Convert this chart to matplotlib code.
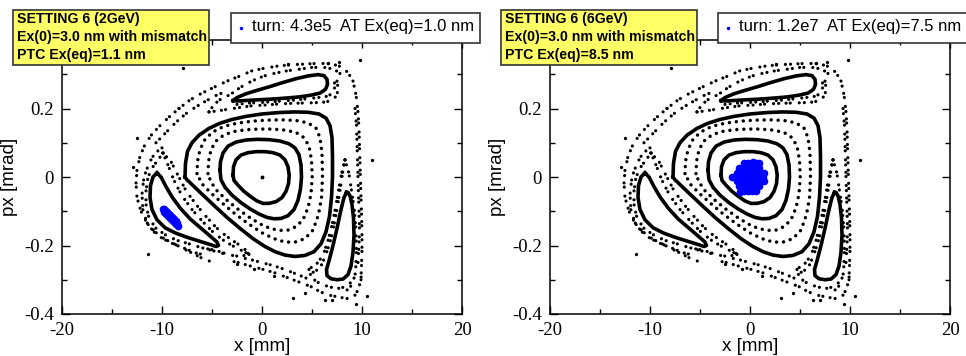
import matplotlib
matplotlib.use("Agg")
import matplotlib.pyplot as plt
from matplotlib.patches import Rectangle
from matplotlib.ticker import MultipleLocator, FuncFormatter

plt.rcParams['axes.unicode_minus'] = False

# ---- data (x in mm, px in mrad) ----
# solid tori
ring1_x = [-2.9, -2.85, -2.6, -2.1, -1.4, -0.6, 0.3, 1.1, 1.8, 2.3, 2.6, 2.72, 2.65, 2.4, 2.0, 1.4, 0.7, 0.1, -0.5, -1.1, -1.8, -2.4, -2.8, -2.9]
ring1_p = [0.005, 0.03, 0.05, 0.064, 0.071, 0.074, 0.074, 0.071, 0.064, 0.05, 0.03, 0.005, -0.02, -0.042, -0.06, -0.072, -0.077, -0.077, -0.07, -0.058, -0.042, -0.024, -0.01, 0.005]
ring2_x = [-4.2, -4.15, -3.9, -3.4, -2.6, -1.6, -0.5, 0.7, 1.8, 2.7, 3.3, 3.7, 3.9, 3.95, 3.85, 3.6, 3.2, 2.6, 1.9, 1.2, 0.5, -0.3, -1.2, -2.1, -3.0, -3.7, -4.1, -4.2]
ring2_p = [0.02, 0.045, 0.07, 0.09, 0.102, 0.108, 0.11, 0.109, 0.105, 0.097, 0.085, 0.065, 0.035, 0.0, -0.035, -0.068, -0.095, -0.113, -0.121, -0.122, -0.118, -0.108, -0.093, -0.075, -0.053, -0.03, -0.008, 0.02]
ring5_x = [-7.7, -7.65, -7.45, -7.0, -6.3, -5.3, -4.2, -3.0, -1.6, 0.0, 1.6, 3.2, 4.6, 5.7, 6.4, 6.8, 7.0, 7.05, 7.05, 6.95, 6.75, 6.4, 5.9, 5.2, 4.3, 3.3, 2.3, 1.3, 0.3, -0.9, -2.2, -3.5, -4.8, -6.0, -7.0, -7.5, -7.7]
ring5_p = [0.0, 0.04, 0.075, 0.1, 0.122, 0.142, 0.157, 0.168, 0.177, 0.184, 0.188, 0.19, 0.189, 0.184, 0.172, 0.15, 0.115, 0.06, 0.0, -0.06, -0.115, -0.16, -0.195, -0.218, -0.229, -0.232, -0.228, -0.218, -0.203, -0.18, -0.15, -0.118, -0.083, -0.05, -0.022, -0.008, 0.0]

# dotted tori
ring3_x = [-5.4, -5.35, -5.1, -4.6, -3.8, -2.8, -1.6, -0.3, 1.0, 2.3, 3.4, 4.2, 4.7, 4.95, 5.02, 4.9, 4.6, 4.1, 3.4, 2.6, 1.7, 0.8, -0.2, -1.3, -2.4, -3.5, -4.5, -5.1, -5.4]
ring3_p = [0.01, 0.045, 0.08, 0.105, 0.123, 0.133, 0.138, 0.14, 0.14, 0.137, 0.13, 0.115, 0.09, 0.05, 0.0, -0.05, -0.09, -0.125, -0.145, -0.155, -0.156, -0.15, -0.137, -0.117, -0.094, -0.068, -0.04, -0.015, 0.01]
ring4_x = [-6.5, -6.45, -6.2, -5.7, -4.9, -3.8, -2.5, -1.0, 0.5, 2.0, 3.4, 4.6, 5.4, 5.8, 6.0, 6.05, 5.95, 5.65, 5.1, 4.3, 3.3, 2.3, 1.2, 0.0, -1.3, -2.6, -3.9, -5.1, -6.0, -6.5]
ring4_p = [0.01, 0.045, 0.08, 0.11, 0.132, 0.148, 0.157, 0.163, 0.166, 0.167, 0.165, 0.158, 0.143, 0.115, 0.07, 0.0, -0.06, -0.11, -0.155, -0.18, -0.19, -0.19, -0.18, -0.163, -0.138, -0.11, -0.078, -0.047, -0.02, 0.01]

# islands
isl_top_x = [-2.9, -2.5, -1.6, -0.5, 0.8, 2.1, 3.4, 4.6, 5.6, 6.2, 6.5, 6.55, 6.35, 5.8, 4.9, 3.8, 2.6, 1.3, 0.0, -1.3, -2.4, -2.9]
isl_top_p = [0.223, 0.232, 0.243, 0.253, 0.264, 0.276, 0.287, 0.295, 0.299, 0.296, 0.285, 0.27, 0.256, 0.245, 0.239, 0.234, 0.231, 0.228, 0.226, 0.224, 0.222, 0.223]
isl_right_x = [8.45, 8.2, 7.9, 7.5, 7.1, 6.7, 6.45, 6.5, 6.9, 7.5, 8.1, 8.6, 8.9, 9.1, 9.2, 9.15, 9.0, 8.8, 8.6, 8.45]
isl_right_p = [-0.045, -0.06, -0.095, -0.15, -0.2, -0.245, -0.27, -0.288, -0.297, -0.3, -0.298, -0.285, -0.26, -0.22, -0.17, -0.12, -0.08, -0.055, -0.045, -0.045]
isl_left_x = [-10.5, -10.9, -11.15, -11.2, -11.0, -10.5, -9.7, -8.7, -7.5, -6.3, -5.2, -4.6, -4.35, -4.5, -5.2, -6.2, -7.2, -8.2, -9.0, -9.6, -10.1, -10.5]
isl_left_p = [0.012, 0.0, -0.025, -0.06, -0.095, -0.125, -0.148, -0.163, -0.176, -0.187, -0.197, -0.203, -0.2, -0.19, -0.172, -0.147, -0.122, -0.09, -0.058, -0.028, 0.0, 0.012]

# chaotic layer, traced as strands of dots
strands = [
    # around left island
    ([-9.9, -9.4, -8.8, -8.0, -7.0, -6.0, -5.0, -4.0, -3.0, -2.0, -1.3],
     [0.07, 0.035, -0.01, -0.055, -0.095, -0.128, -0.158, -0.182, -0.2, -0.215, -0.226]),
    ([-9.9, -9.1, -8.4, -7.6, -6.6, -5.6, -4.6, -3.6, -2.6, -1.8, -1.3],
     [0.07, 0.045, 0.005, -0.04, -0.08, -0.115, -0.147, -0.172, -0.192, -0.208, -0.226]),
    ([-1.3, -2.2, -3.2, -4.2, -5.0, -6.0],
     [-0.226, -0.232, -0.228, -0.218, -0.212, -0.207]),
    ([-9.9, -10.4, -10.9, -11.4, -11.6, -11.6, -11.3, -10.6, -9.6, -8.5, -7.3, -6.2, -5.2, -4.3, -3.5],
     [0.07, 0.05, 0.03, 0.0, -0.04, -0.08, -0.12, -0.15, -0.17, -0.185, -0.195, -0.205, -0.213, -0.22, -0.226]),
    ([-10.0, -10.7, -11.3, -11.8, -12.0, -11.9, -11.4, -10.5, -9.3, -8.0, -6.8, -5.5],
     [0.085, 0.07, 0.04, 0.0, -0.05, -0.1, -0.14, -0.17, -0.19, -0.205, -0.22, -0.23]),
    ([-10.6, -9.6, -8.6, -7.6, -6.6, -5.6, -4.6, -3.6],
     [0.1, 0.13, 0.16, 0.185, 0.205, 0.222, 0.238, 0.25]),
    # around top island
    ([-5.3, -4.4, -3.4, -2.2, -1.0, 0.3, 1.6, 2.9, 4.2, 5.4, 6.4, 7.1, 7.5, 7.6, 7.5],
     [0.19, 0.193, 0.198, 0.203, 0.208, 0.21, 0.213, 0.215, 0.216, 0.217, 0.219, 0.225, 0.24, 0.26, 0.28]),
    ([-2.5, -1.2, 0.2, 1.6, 3.0, 4.4, 5.6, 6.6, 7.2, 7.3, 7.1],
     [0.212, 0.216, 0.218, 0.221, 0.224, 0.228, 0.232, 0.236, 0.248, 0.27, 0.29]),
    ([-5.3, -4.9, -4.4, -3.8, -3.2, -2.5, -1.7, -0.8, 0.2, 1.3, 2.5, 3.8, 5.0, 6.2, 7.2, 7.9, 8.2],
     [0.19, 0.207, 0.222, 0.233, 0.24, 0.255, 0.27, 0.283, 0.295, 0.303, 0.31, 0.315, 0.32, 0.32, 0.315, 0.3, 0.28]),
    ([-8.3, -7.2, -6.0, -4.8, -3.5, -2.2, -1.0, 0.3, 1.6, 3.0, 4.4, 5.8, 7.0, 7.9, 8.6, 9.1],
     [0.2, 0.225, 0.245, 0.262, 0.28, 0.295, 0.31, 0.318, 0.324, 0.328, 0.33, 0.332, 0.33, 0.322, 0.305, 0.28]),
    # around right island
    ([8.3, 7.95, 7.65, 7.35, 7.0, 6.6, 6.15, 5.6, 5.0, 4.7],
     [0.05, 0.01, -0.04, -0.09, -0.14, -0.185, -0.225, -0.25, -0.262, -0.27]),
    ([8.3, 8.1, 7.85, 7.55, 7.2, 6.8, 6.35, 5.9, 5.3, 4.8, 4.7],
     [0.05, 0.02, -0.03, -0.085, -0.14, -0.19, -0.23, -0.26, -0.277, -0.28, -0.27]),
    ([8.3, 8.7, 8.95, 9.25, 9.4, 9.45, 9.35, 9.0, 8.5],
     [0.05, 0.01, -0.04, -0.1, -0.16, -0.22, -0.28, -0.315, -0.33]),
    ([4.7, 4.9, 5.4, 6.1, 6.9, 7.7, 8.4, 9.0],
     [-0.27, -0.29, -0.305, -0.315, -0.322, -0.325, -0.32, -0.305]),
    # outer band
    ([9.9, 9.6, 9.2, 8.5, 7.6, 6.7, 5.8, 4.9, 4.0, 3.1, 2.2, 1.3, 0.4, -0.5, -1.4, -2.3, -3.2],
     [-0.3, -0.33, -0.35, -0.355, -0.35, -0.345, -0.335, -0.32, -0.31, -0.3, -0.29, -0.28, -0.272, -0.265, -0.258, -0.25, -0.245]),
    ([4.4, 3.6, 2.7, 1.8, 0.9, 0.0, -0.9, -1.8],
     [-0.295, -0.285, -0.275, -0.265, -0.257, -0.25, -0.243, -0.237]),
    ([9.1, 9.4, 9.6, 9.7, 9.75, 9.8, 9.85, 9.9, 9.95, 10.0, 10.0, 9.95, 9.9],
     [0.28, 0.24, 0.19, 0.14, 0.09, 0.04, -0.01, -0.06, -0.11, -0.16, -0.21, -0.26, -0.3]),
    ([9.3, 9.45, 9.5, 9.55, 9.6, 9.65, 9.7, 9.75, 9.7, 9.6],
     [0.2, 0.15, 0.1, 0.05, 0.0, -0.05, -0.1, -0.15, -0.2, -0.25]),
    ([-8.3, -9.3, -10.2, -11.0, -11.7, -12.2, -12.5, -12.6, -12.5, -12.1, -11.5, -10.7, -9.8, -8.8, -7.8, -6.8, -5.8, -4.8],
     [0.2, 0.175, 0.15, 0.125, 0.095, 0.06, 0.02, -0.02, -0.06, -0.1, -0.135, -0.16, -0.18, -0.195, -0.21, -0.225, -0.24, -0.25]),
]

# isolated escaping points
lone_x = [-7.93, 9.8, 11.0, -12.5, -12.87, -11.37, 3.13, 10.47, 9.4, 7.0, 6.3, 7.7, 2.6, 6.6, 4.3, -2.5, -0.8, 1.2]
lone_p = [0.317, 0.343, 0.05, 0.113, 0.03, -0.226, -0.352, -0.347, -0.37, -0.36, -0.36, 0.336, 0.331, 0.333, -0.34, -0.255, -0.27, -0.29]

# tracked beam (blue)
beam2_x = [-9.95, -9.75, -9.55, -9.35, -9.15, -8.95, -8.75, -8.55, -9.85, -9.65, -9.45, -9.25, -9.05, -8.85, -8.65,
           -9.8, -9.6, -9.4, -9.2, -9.0, -8.8, -8.6, -8.4]
beam2_p = [-0.093, -0.099, -0.105, -0.111, -0.117, -0.123, -0.129, -0.134, -0.102, -0.108, -0.114, -0.12, -0.126, -0.132, -0.137,
           -0.092, -0.098, -0.104, -0.11, -0.116, -0.122, -0.128, -0.142]
beam6_x = [-0.6, -0.2, 0.2, 0.6,
           -1.1, -0.7, -0.3, 0.1, 0.5, 0.9,
           -1.3, -0.9, -0.5, -0.1, 0.3, 0.7, 1.1, 1.4,
           -1.5, -1.1, -0.7, -0.3, 0.1, 0.5, 0.9, 1.3,
           -1.3, -0.9, -0.5, -0.1, 0.3, 0.7, 1.1, 1.4,
           -1.1, -0.7, -0.3, 0.1, 0.5, 0.9,
           -0.6, -0.2, 0.2, 0.6,
           0.33, -0.97, -1.8, 0.9]
beam6_p = [0.04, 0.04, 0.04, 0.04,
           0.027, 0.027, 0.027, 0.027, 0.027, 0.027,
           0.013, 0.013, 0.013, 0.013, 0.013, 0.013, 0.013, 0.013,
           0.0, 0.0, 0.0, 0.0, 0.0, 0.0, 0.0, 0.0,
           -0.013, -0.013, -0.013, -0.013, -0.013, -0.013, -0.013, -0.013,
           -0.027, -0.027, -0.027, -0.027, -0.027, -0.027,
           -0.04, -0.04, -0.04, -0.04,
           0.045, -0.045, 0.0, 0.042]

panels = [
    dict(beam_x=beam2_x, beam_p=beam2_p, center_dot=True,
         box="SETTING 6 (2GeV)\nEx(0)=3.0 nm with mismatch\nPTC Ex(eq)=1.1 nm",
         leg="turn: 4.3e5  AT Ex(eq)=1.0 nm"),
    dict(beam_x=beam6_x, beam_p=beam6_p, center_dot=False,
         box="SETTING 6 (6GeV)\nEx(0)=3.0 nm with mismatch\nPTC Ex(eq)=8.5 nm",
         leg="turn: 1.2e7  AT Ex(eq)=7.5 nm"),
]

W, H = 966, 356
fig = plt.figure(figsize=(W / 100, H / 100), dpi=100)

def fx(p):
    return p / W

def fy(p):
    return 1 - p / H

def ylab(v, pos):
    # the 0.4 label sits under the info box in the original
    if v > 0.3:
        return ""
    return "%g" % round(v, 2)

serif = 'Liberation Serif'
sans = 'Liberation Sans'
dots = (0, (0.01, 2.0))
sparse = (0, (0.01, 1.6, 0.01, 2.3, 0.01, 1.3, 0.01, 2.8))

for i, pn in enumerate(panels):
    x0 = 62 + i * 488
    ax = fig.add_axes([fx(x0), fy(314), 400 / W, 274 / H])
    ax.set_xlim(-20, 20)
    ax.set_ylim(-0.4, 0.4)

    for xs, ps in [(ring1_x, ring1_p), (ring2_x, ring2_p), (ring5_x, ring5_p),
                   (isl_top_x, isl_top_p), (isl_right_x, isl_right_p), (isl_left_x, isl_left_p)]:
        ax.plot(xs, ps, color='k', lw=2.6, solid_joinstyle='round')
    for xs, ps in [(ring3_x, ring3_p), (ring4_x, ring4_p)]:
        ax.plot(xs, ps, color='k', lw=2.5, linestyle=dots, dash_capstyle='round')
    for xs, ps in strands:
        ax.plot(xs, ps, color='k', lw=2.3, linestyle=sparse, dash_capstyle='round')
    ax.plot(lone_x, lone_p, 'o', color='k', ms=2.4, mew=0)
    if pn['center_dot']:
        ax.plot([0], [0], 'o', color='k', ms=2.8, mew=0)
    ax.plot(pn['beam_x'], pn['beam_p'], 'o', color='#0000ff', ms=5.5, mew=0)

    ax.xaxis.set_major_locator(MultipleLocator(10))
    ax.xaxis.set_minor_locator(MultipleLocator(5))
    ax.yaxis.set_major_locator(MultipleLocator(0.2))
    ax.yaxis.set_minor_locator(MultipleLocator(0.1))
    ax.yaxis.set_major_formatter(FuncFormatter(ylab))
    ax.tick_params(which='both', direction='in', top=True, right=True, width=1)
    ax.tick_params(which='major', length=6, labelsize=13.5, pad=6)
    ax.tick_params(which='minor', length=3.5)
    for lab in ax.get_xticklabels() + ax.get_yticklabels():
        lab.set_fontfamily(serif)
    for s in ax.spines.values():
        s.set_linewidth(1.1)
    ax.set_xlabel("x [mm]", fontsize=13.5, fontfamily=sans, labelpad=-1)
    ax.set_ylabel("px [mrad]", fontsize=13.5, fontfamily=sans, labelpad=4)

    # yellow info box
    bx = 13 + i * 488
    fig.patches.append(Rectangle((fx(bx), fy(65)), 196 / W, 55 / H, transform=fig.transFigure,
                                 facecolor='#ffff66', edgecolor='#333333', lw=1.2, zorder=5))
    fig.text(fx(bx + 4), fy(37), pn['box'], fontsize=10.2, fontweight='bold', fontfamily=sans,
             va='center', ha='left', zorder=6, linespacing=1.33)

    # legend box
    lx = 231 + i * 487
    fig.patches.append(Rectangle((fx(lx), fy(43)), 249 / W, 30 / H, transform=fig.transFigure,
                                 facecolor='white', edgecolor='#333333', lw=1.2, zorder=5))
    fig.lines.append(plt.Line2D([fx(lx + 10)], [fy(28)], marker='o', color='#0000ff', ms=2.5, mew=0,
                                transform=fig.transFigure, zorder=6))
    fig.text(fx(lx + 21), fy(27), pn['leg'], fontsize=12, fontfamily=sans,
             va='center', ha='left', zorder=6)

fig.savefig("out.png", dpi=100)
